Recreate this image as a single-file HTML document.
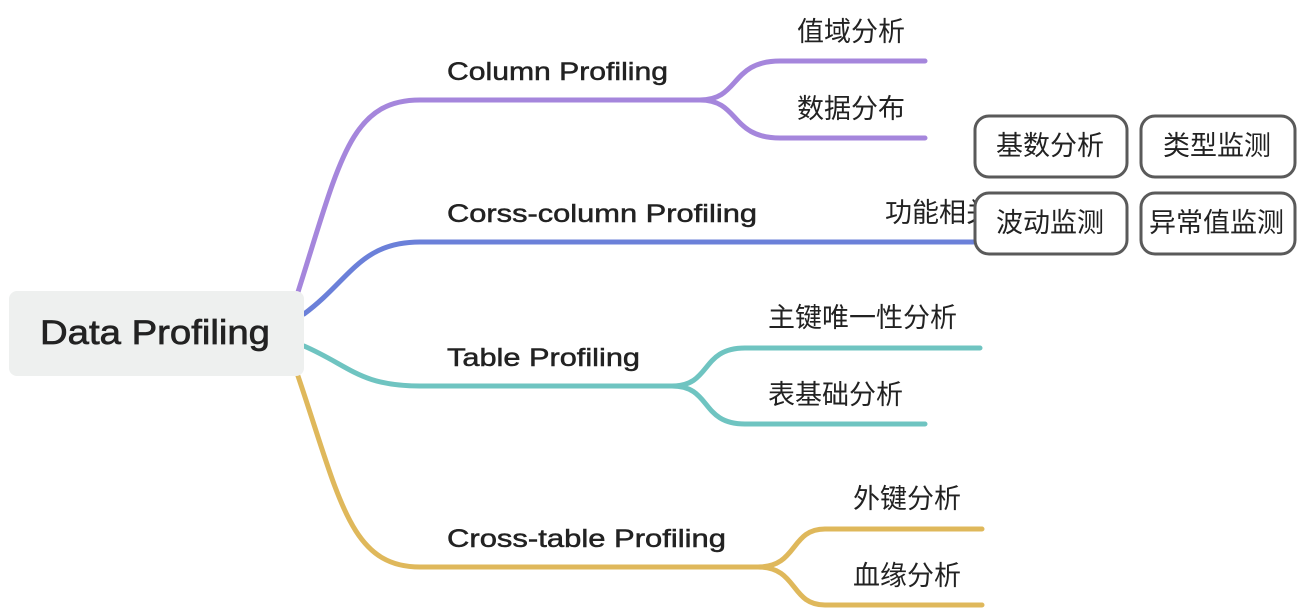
<!DOCTYPE html>
<html><head><meta charset="utf-8"><style>
html,body{margin:0;padding:0;background:#fff;width:1309px;height:611px;overflow:hidden}
svg{display:block}
text{font-family:"Liberation Sans","Noto Sans CJK SC",sans-serif;fill:#222}
.en{font-size:25px;stroke:#222;stroke-width:0.5}
.cn{font-size:27px}
</style></head><body>
<svg width="1309" height="611" viewBox="0 0 1309 611" xmlns="http://www.w3.org/2000/svg">
<g fill="none" stroke-width="5" stroke-linecap="round">
<path d="M298 292 C340 160 350 100 420 100 L700 100 C740 100 730 61 780 61 L925 61 M700 100 C740 100 730 138 780 138 L925 138" stroke="#a586dc"/>
<path d="M304 314 C350 280 360 242 420 242 L975 242" stroke="#6b80d9"/>
<path d="M304 346 C350 366 360 386 420 386 L672 386 C712 386 700 348 745 348 L980 348 M672 386 C712 386 700 424 745 424 L925 424" stroke="#6fc4c1"/>
<path d="M298 376 C340 500 350 567 420 567 L758 567 C798 567 790 529 825 529 L982 529 M758 567 C798 567 790 605 825 605 L982 605" stroke="#dfb85b"/>
</g>
<rect x="9" y="291" width="295" height="85" rx="8" fill="#eef0ef"/>
<text x="40" y="344" textLength="230" lengthAdjust="spacingAndGlyphs" style="font-size:34px;stroke:#222;stroke-width:0.7">Data Profiling</text>
<text class="en" x="447" y="80" textLength="221" lengthAdjust="spacingAndGlyphs">Column Profiling</text>
<text class="en" x="447" y="222" textLength="310" lengthAdjust="spacingAndGlyphs">Corss-column Profiling</text>
<text class="en" x="447" y="366" textLength="193" lengthAdjust="spacingAndGlyphs">Table Profiling</text>
<text class="en" x="447" y="547" textLength="279" lengthAdjust="spacingAndGlyphs">Cross-table Profiling</text>
<text class="cn" x="797" y="41">值域分析</text>
<text class="cn" x="797" y="118">数据分布</text>
<text class="cn" x="885" y="222">功能相关</text>
<text class="cn" x="768" y="327">主键唯一性分析</text>
<text class="cn" x="768" y="404">表基础分析</text>
<text class="cn" x="853" y="508">外键分析</text>
<text class="cn" x="853" y="585">血缘分析</text>
<g fill="#fff" stroke="#5a5a5a" stroke-width="3">
<rect x="975" y="116" width="152" height="61" rx="14"/>
<rect x="1141" y="116" width="154" height="61" rx="14"/>
<rect x="975" y="193" width="152" height="61" rx="14"/>
<rect x="1141" y="193" width="154" height="61" rx="14"/>
</g>
<text class="cn" x="996" y="155">基数分析</text>
<text class="cn" x="1163" y="155">类型监测</text>
<text class="cn" x="996" y="232">波动监测</text>
<text class="cn" x="1149" y="232">异常值监测</text>
</svg>
</body></html>
